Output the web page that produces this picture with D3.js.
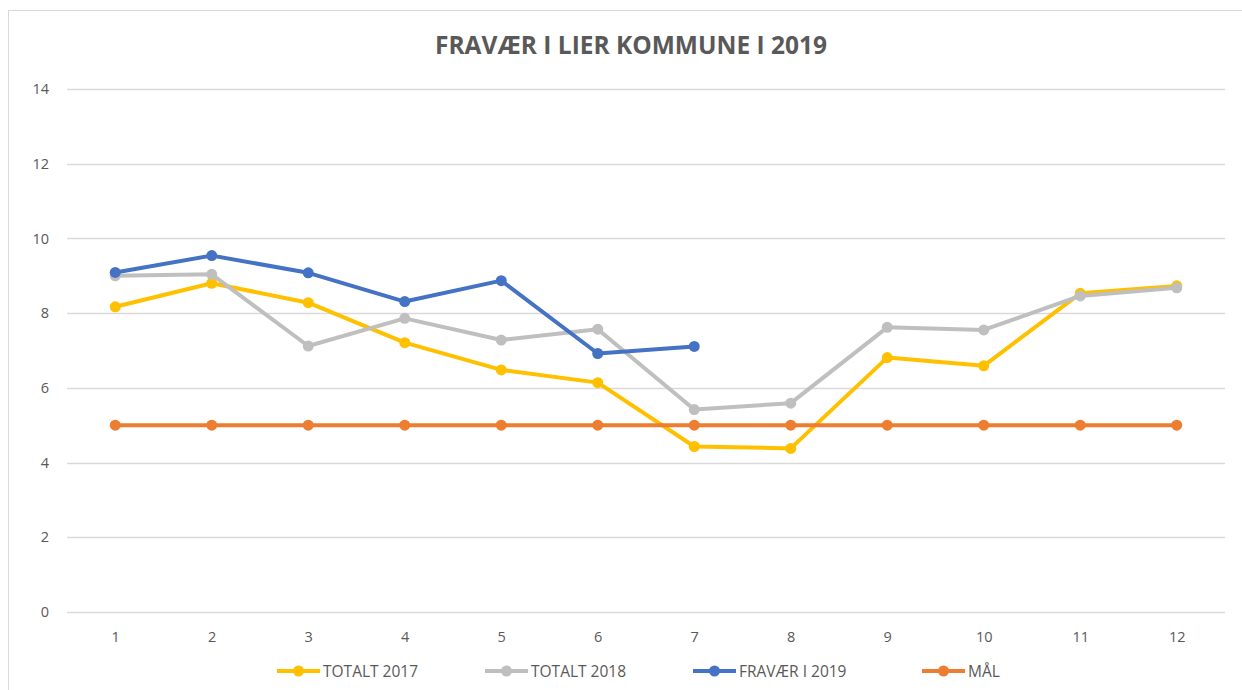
<!DOCTYPE html>
<html>
<head>
<meta charset="utf-8">
<script src="https://cdn.jsdelivr.net/npm/d3@7"></script>
<style>
  body { margin: 0; background: #fff; }
  text { font-family: "Open Sans", "Liberation Sans", sans-serif; fill: #595959; }
</style>
</head>
<body>
<svg id="chart" width="1242" height="690"></svg>
<script>
// months 1..12
var months = [1, 2, 3, 4, 5, 6, 7, 8, 9, 10, 11, 12];
var totalt2017 = [8.17, 8.8, 8.28, 7.21, 6.48, 6.14, 4.43, 4.38, 6.81, 6.59, 8.53, 8.73];
var totalt2018 = [9.0, 9.04, 7.12, 7.86, 7.28, 7.57, 5.42, 5.59, 7.62, 7.55, 8.46, 8.68];
var fravaer2019 = [9.09, 9.54, 9.08, 8.31, 8.87, 6.92, 7.11];
var maal = [5, 5, 5, 5, 5, 5, 5, 5, 5, 5, 5, 5];
var yTicks = [0, 2, 4, 6, 8, 10, 12, 14];

var seriesList = [
  { name: "TOTALT 2017", values: totalt2017, color: "#ffc000" },
  { name: "TOTALT 2018", values: totalt2018, color: "#bfbfbf" },
  { name: "FRAVÆR I 2019", values: fravaer2019, color: "#4472c4" },
  { name: "MÅL", values: maal, color: "#ed7d31" }
];

var svg = d3.select("#chart");

// outer chart border
svg.append("rect")
  .attr("x", 8.5).attr("y", 10.5)
  .attr("width", 1250).attr("height", 700)
  .attr("fill", "none")
  .attr("stroke", "#d9d9d9")
  .attr("stroke-width", 1);

var x = d3.scalePoint().domain(months).range([67, 1225]).padding(0.5);
var y = d3.scaleLinear().domain([0, 14]).range([612, 89]);

// gridlines
svg.append("g")
  .selectAll("line")
  .data(yTicks)
  .join("line")
  .attr("x1", 67).attr("x2", 1225)
  .attr("y1", (d) => Math.round(y(d)) + 0.5)
  .attr("y2", (d) => Math.round(y(d)) + 0.5)
  .attr("stroke", "#d9d9d9")
  .attr("stroke-width", 1.5);

// y axis labels
var yAxis = d3.axisLeft(y).tickValues(yTicks).tickSize(0).tickPadding(0);
svg.append("g")
  .attr("transform", "translate(49,0)")
  .call(yAxis)
  .call((g) => g.select(".domain").remove())
  .selectAll("text")
  .style("font-size", "14.5px")
  .attr("fill", "#595959");

// x axis labels
var xAxis = d3.axisBottom(x).tickSize(0).tickPadding(0);
svg.append("g")
  .attr("transform", "translate(0,632)")
  .call(xAxis)
  .call((g) => g.select(".domain").remove())
  .selectAll("text")
  .style("font-size", "14.5px")
  .attr("fill", "#595959");

// title
svg.append("text")
  .attr("x", 631).attr("y", 54)
  .attr("text-anchor", "middle")
  .style("font-size", "24.5px")
  .style("font-weight", "bold")
  .text("FRAVÆR I LIER KOMMUNE I 2019");

var line = d3.line()
  .x((d, i) => x(months[i]))
  .y((d) => y(d));

seriesList.forEach(function (s) {
  var g = svg.append("g").attr("class", "series");
  g.append("path")
    .attr("d", line(s.values))
    .attr("fill", "none")
    .attr("stroke", s.color)
    .attr("stroke-width", 4)
    .attr("stroke-linejoin", "round");
  g.selectAll("circle")
    .data(s.values)
    .join("circle")
    .attr("cx", (d, i) => x(months[i]))
    .attr("cy", (d) => y(d))
    .attr("r", 5.5)
    .attr("fill", s.color);
});

// legend
var legendX = [277, 485, 693, 922];
var legend = svg.append("g").attr("transform", "translate(0,671)");
seriesList.forEach(function (s, i) {
  var lg = legend.append("g").attr("transform", "translate(" + legendX[i] + ",0)");
  lg.append("line")
    .attr("x1", 0).attr("x2", 43)
    .attr("stroke", s.color)
    .attr("stroke-width", 4);
  lg.append("circle")
    .attr("cx", 21.5).attr("r", 5.5)
    .attr("fill", s.color);
  lg.append("text")
    .attr("x", 46).attr("y", 6)
    .style("font-size", "15.5px")
    .text(s.name);
});
</script>
</body>
</html>
